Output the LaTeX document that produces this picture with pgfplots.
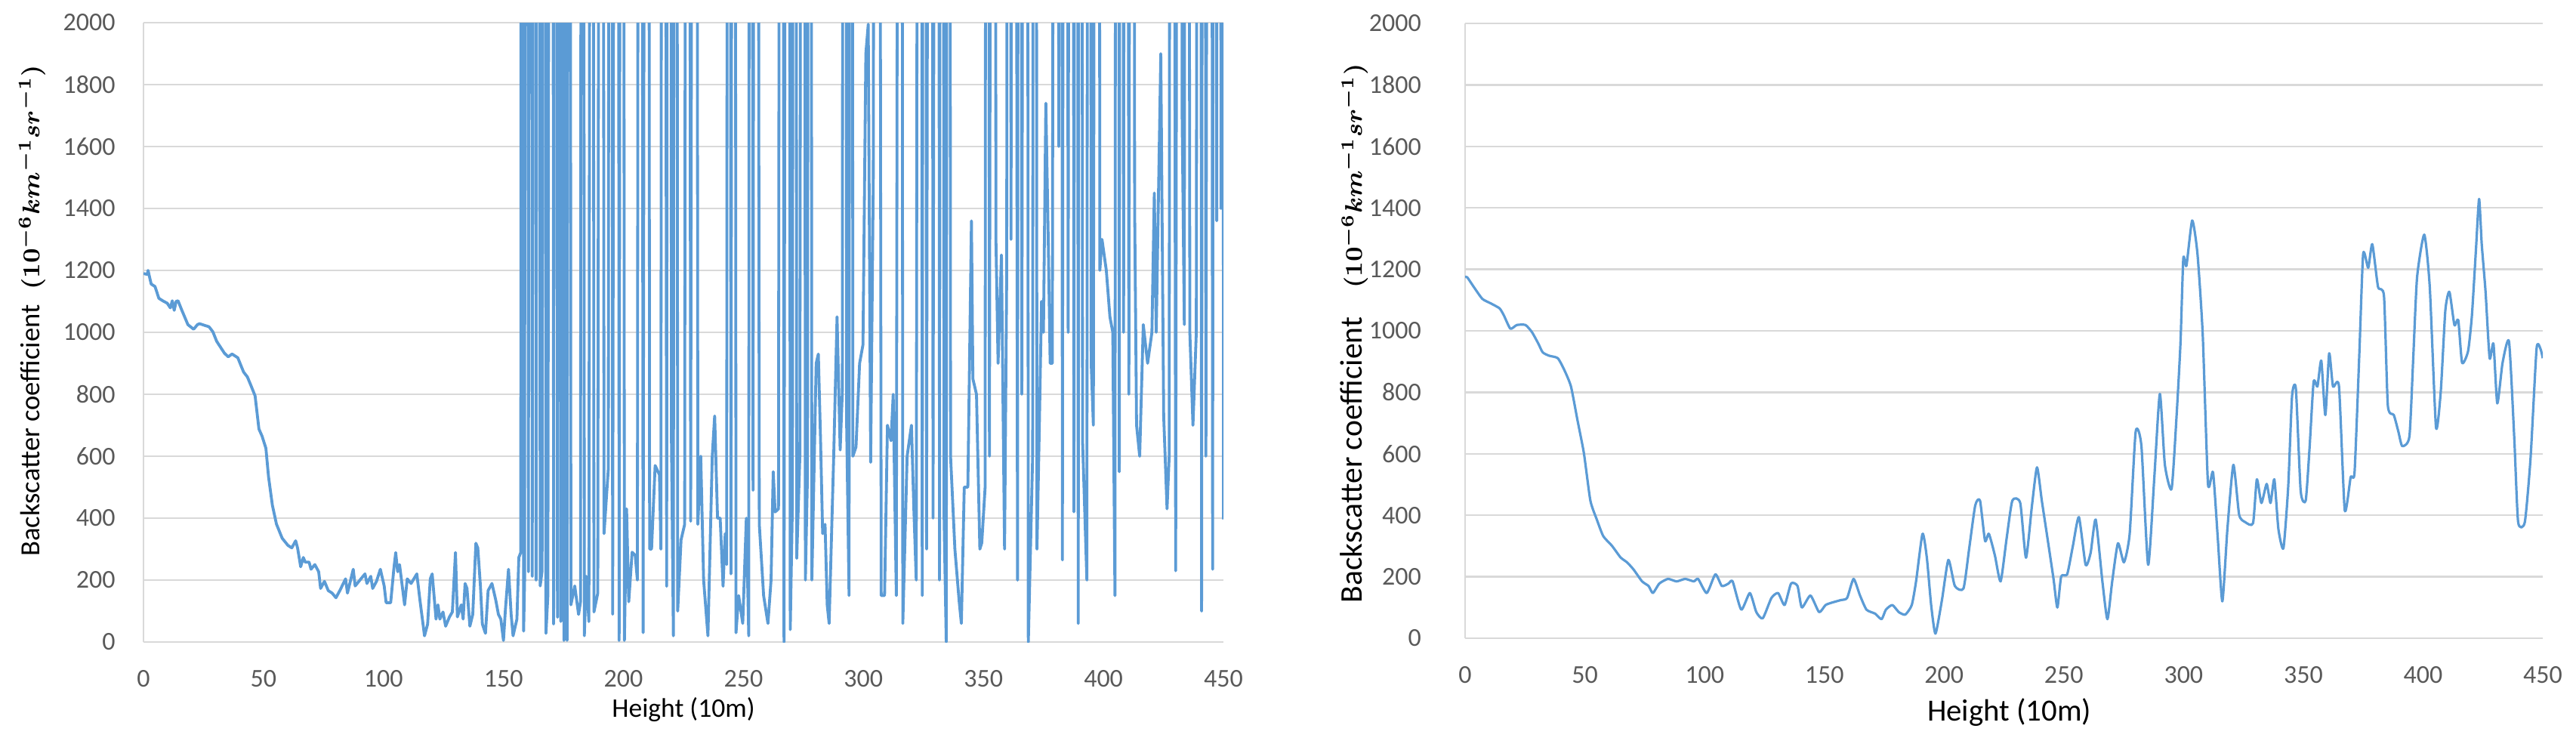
\documentclass[border=0pt]{standalone}
\usepackage{amsmath}
\usepackage{bm}
\usepackage[no-math]{fontspec}
\setmainfont{Carlito}
\usepackage{pgfplots}
\pgfplotsset{compat=1.18}
\definecolor{lineblue}{HTML}{5B9BD5}
\definecolor{gridgray}{HTML}{D9D9D9}
\definecolor{tickgray}{HTML}{595959}
\newcommand{\unitlabel}{$\bm{(10^{-6}km^{-1}sr^{-1})}$}
\pgfplotsset{
  excelstyle/.style={
    scale only axis,
    xmin=0, xmax=450, ymin=0, ymax=2000,
    xtick={0,50,...,450}, ytick={0,200,...,2000},
    axis lines*=left,
    axis line style={line width=0.6pt, draw=gridgray},
    ymajorgrids,
    grid style={line width=0.6pt, draw=gridgray},
    major tick length=0pt,
    /pgf/number format/1000 sep={},
    /pgf/number format/assume math mode=true,
    ticklabel style={font=\fontsize{8.5}{10}\selectfont, text=tickgray},
    yticklabel style={xshift=-5.8pt},
    xticklabel style={yshift=-5.8pt},
  }
}
\begin{document}
\begin{tikzpicture}
\useasboundingbox (0pt,0pt) rectangle (852.75pt,247pt);
% ---------------- left panel ----------------
\begin{axis}[excelstyle,
  at={(47.5pt,34.5pt)}, anchor=south west,
  width=357.5pt, height=205pt,
  xlabel={\fontsize{8.9}{10}\selectfont Height (10m)},
  xlabel style={at={(axis description cs:0.5,0)}, anchor=center, yshift=-22.5pt},
  ylabel={{\fontsize{9.15}{11}\selectfont Backscatter coefficient}\hspace{5pt}{\fontsize{8.3}{10}\selectfont\unitlabel}},
  ylabel style={at={(axis description cs:-0.1035,0.535)}, anchor=center},
]
\addplot[lineblue, line width=0.95pt, line join=round] coordinates {
(0,1190) (1.6,1187) (1.9,1200) (3.2,1156) (4.8,1148) (6.4,1110) (8.0,1102) (9.9,1094)
(11.2,1079) (12.0,1102) (12.8,1071) (13.6,1100) (14.4,1102) (16.0,1071) (18.5,1025)
(20.9,1010) (22.5,1025) (23.3,1028) (27.3,1018) (28.9,1002) (30.5,971) (33.7,933)
(35.3,921) (36.9,930) (39.3,918) (41.7,872) (43.3,856) (44.9,826) (46.5,795) (48.1,688)
(49.4,665) (51.0,626) (52.1,534) (53.7,442) (55.4,381) (57.8,335) (60.2,312) (61.8,304)
(63.4,327) (64.2,304) (65.5,243) (66.6,273) (67.4,258) (69.0,258) (69.8,235) (71.4,250)
(73.0,227) (73.8,173) (75.4,196) (77.0,166) (78.6,158) (80.2,143) (81.8,166) (84.2,204)
(85.0,158) (87.4,235) (88.2,181) (90.6,204) (92.3,220) (93.1,189) (94.7,212) (95.5,173)
(97.1,196) (98.7,235) (100.3,181) (101.1,127) (103.0,127) (104.3,235) (105.1,289)
(105.9,227) (106.7,250) (108.8,120) (109.9,204) (111.5,189) (113.9,220) (115.2,135)
(117.1,20) (118.4,58) (119.5,204) (120.3,220) (121.9,74) (122.7,120) (123.5,74)
(124.8,97) (125.9,51) (127.5,81) (128.7,97) (130.0,289) (130.8,81) (132.4,120)
(133.2,74) (134.0,189) (134.8,173) (136.0,51) (137.2,89) (138.5,319) (139.3,304)
(140.4,181) (141.2,58) (142.5,28) (143.6,166) (145.2,189) (146.8,135) (147.9,89)
(148.9,74) (150.0,5) (150.8,104) (152.1,235) (153.2,89) (154.0,20) (155.6,74)
(156.4,273) (157.2,289) (157.8,10000) (158.4,35) (158.8,200) (159.6,10000) (160.4,227)
(161.2,10000) (162.0,212) (162.8,10000) (163.6,200) (164.3,10000) (165.3,181) (166.1,230)
(166.9,10000) (167.7,28) (168.5,150) (170.1,10000) (170.9,58) (171.7,10000) (172.5,80)
(173.3,10000) (173.9,66) (174.6,10000) (175.2,5) (175.9,10000) (176.5,5) (177.3,10000)
(178.1,120) (179.7,181) (181.3,89) (182.1,130) (182.9,10000) (183.7,20) (184.5,212)
(185.6,66) (186.9,10000) (187.7,97) (189.3,158) (190.9,10000) (191.9,350) (193.7,560)
(194.6,10000) (195.5,90) (197.3,10000) (198.2,5) (199.5,10000) (200.4,5) (201.3,430)
(202.2,130) (203.6,290) (204.9,280) (205.8,200) (206.9,10000) (208.2,30) (209.9,10000)
(210.9,300) (211.7,300) (213.2,570) (215.0,540) (215.6,300) (216.5,10000) (218.0,180)
(219.0,10000) (220.0,650) (220.8,20) (221.7,10000) (222.6,100) (224.0,330) (225.5,380)
(226.7,10000) (228.0,390) (229.8,10000) (231.0,380) (232.2,600) (233.4,200) (235.2,20)
(237.0,600) (238.0,730) (239.2,400) (240.3,400) (241.5,180) (242.4,350) (243.0,250)
(243.9,10000) (244.8,220) (246.0,10000) (246.9,30) (248.0,150) (249.7,60) (251.2,400)
(252.2,20) (252.9,10000) (254.0,490) (255.1,10000) (256.6,380) (258.4,150) (260.2,60)
(261.5,200) (262.4,550) (263.2,420) (264.6,430) (265.9,10000) (266.9,0) (268.6,10000)
(269.5,40) (270.4,450) (271.3,10000) (272.2,270) (273.5,600) (274.9,10000) (275.8,200)
(276.7,550) (277.6,10000) (278.5,200) (280.3,900) (281.2,930) (282.1,660) (283.0,350)
(284.0,380) (284.9,120) (285.7,60) (287.6,600) (289.0,1050) (290.3,620) (291.2,810)
(292.0,10000) (293.0,700) (294.0,150) (294.8,10000) (295.6,600) (296.9,630) (298.4,900)
(299.8,960) (301.0,1900) (302.0,1995) (303.0,580) (304.1,1500) (305.6,10000) (307.4,150)
(308.8,150) (310.0,700) (311.5,650) (312.4,800) (313.7,150) (315.5,10000) (316.4,60)
(318.2,600) (320.0,700) (321.0,430) (322.0,200) (323.6,10000) (324.5,150) (325.4,10000)
(326.3,300) (328.1,10000) (329.0,400) (330.8,10000) (331.7,200) (332.6,10000) (333.6,400)
(334.5,0) (335.4,10000) (336.3,600) (338.1,300) (339.9,130) (340.8,60) (342.0,500)
(343.5,500) (345.0,1360) (345.6,850) (347.1,800) (348.5,300) (349.3,320) (350.7,500)
(351.6,10000) (352.5,600) (354.3,10000) (355.2,1300) (356.1,900) (357.5,1250) (358.8,300)
(359.7,1200) (360.6,10000) (361.5,1300) (362.4,10000) (364.2,200) (365.1,10000)
(366.0,800) (367.8,10000) (368.7,0) (370.5,600) (371.4,10000) (372.3,300) (373.3,700)
(374.2,1100) (375.0,1000) (376.0,1740) (377.0,1300) (377.8,900) (378.7,900)
(380.5,10000) (381.4,1600) (382.3,10000) (382.9,265) (384.1,10000) (385.3,1000)
(386.8,10000) (387.7,420) (388.6,10000) (389.5,60) (390.4,10000) (391.3,650) (393.1,200)
(394.0,10000) (394.9,900) (395.8,700) (397.6,10000) (398.5,1200) (399.4,1300)
(401.2,1200) (402.7,1050) (403.9,1000) (404.8,150) (405.7,10000) (406.6,550)
(407.5,10000) (408.4,1000) (409.3,10000) (410.6,800) (412.0,10000) (413.0,1400)
(413.8,700) (415.1,600) (416.6,1025) (418.4,900) (420.2,1000) (421.2,1450) (422.0,1000)
(423.9,1900) (425.1,730) (426.5,430) (427.4,600) (428.3,10000) (430.1,230) (431.9,10000)
(432.8,1700) (433.7,1025) (434.6,10000) (436.0,1000) (437.3,700) (438.7,1000)
(440.0,10000) (440.9,100) (441.8,10000) (442.7,600) (444.5,10000) (445.5,235)
(446.3,10000) (447.2,1360) (448.1,10000) (449.0,1400) (449.6,10000) (450,396)
};
\end{axis}
% ---------------- right panel ----------------
\begin{axis}[excelstyle,
  at={(485pt,35.75pt)}, anchor=south west,
  width=356.75pt, height=203.5pt,
  yticklabel style={xshift=-5.2pt},
  xlabel={\fontsize{10.2}{12}\selectfont Height (10m)},
  xlabel style={at={(axis description cs:0.505,0)}, anchor=center, yshift=-24.5pt},
  ylabel={{\fontsize{10.4}{12}\selectfont Backscatter coefficient}\hspace{9.5pt}{\fontsize{8.3}{10}\selectfont\unitlabel}},
  ylabel style={at={(axis description cs:-0.103,0.496)}, anchor=center},
]
\addplot[lineblue, line width=0.8pt, line join=round, smooth, tension=0.35] coordinates {
(0,1175) (0.9,1174) (3.6,1143) (7.2,1104) (10.8,1089) (14.4,1073) (16.2,1050) (18.9,1007)
(21.6,1019) (25.2,1019) (27.9,996) (30.6,958) (32.4,930) (35.1,919) (38.7,911) (41.4,873)
(44.2,819) (46.9,710) (49.6,602) (52.3,448) (55.0,386) (57.7,332) (61.3,301) (64.9,263)
(67.6,247) (70.3,224) (73.9,185) (76.6,170) (78.4,147) (81.1,178) (84.7,193) (88.3,185)
(91.9,193) (95.5,185) (97.3,193) (100.9,147) (104.5,208) (107.2,170) (110.0,178)
(111.7,185) (115.3,93) (118.9,147) (121.6,85) (124.3,65) (127.9,131) (130.7,147)
(133.4,108) (136.1,178) (138.8,170) (140.6,100) (144.2,139) (147.8,85) (150.5,108)
(153.2,116) (156.8,124) (159.5,131) (162.2,193) (164.9,139) (167.6,93) (171.2,80)
(173.9,62) (175.7,93) (178.4,108) (181.1,85) (183.8,77) (186.5,108) (188.3,185)
(191.0,340) (192.8,262) (194.6,108) (196.4,15) (199.1,124) (201.8,255) (204.5,170)
(208.1,162) (210.5,293) (213.0,432) (215.0,448) (217.1,317) (218.7,340) (221.2,270)
(223.6,185) (226.1,324) (228.5,448) (231.8,440) (234.2,262) (236.7,432) (238.8,556)
(240.8,448) (243.2,324) (245.7,193) (247.3,100) (248.9,201) (251.4,208) (253.8,301)
(256.3,394) (259.1,239) (261.2,278) (263.3,386) (266.1,185) (268.2,62) (270.2,185)
(272.6,309) (275.1,247) (277.5,340) (280.0,672) (282.4,625) (285.2,239) (287.8,525)
(290.1,795) (292.2,564) (295.0,486) (297.1,726) (298.7,958) (299.9,1236) (301.2,1212)
(303.6,1359) (305.8,1251) (308.0,988) (310.2,502) (312.3,540) (314.3,324) (316.2,120)
(318.3,355) (320.8,564) (323.2,402) (325.7,378) (329.0,374) (330.6,517) (332.5,440)
(334.7,502) (336.3,440) (337.9,517) (339.6,355) (341.7,293) (343.7,494) (345.3,788)
(346.9,811) (348.9,479) (351.0,448) (352.6,618) (354.3,834) (355.9,819) (357.5,903)
(359.2,726) (360.8,927) (362.4,819) (364.9,819) (367.3,417) (369.8,525) (371.4,540)
(373.4,927) (375.0,1251) (377.1,1205) (378.8,1282) (381.2,1143) (383.7,1112) (385.3,757)
(387.8,726) (389.7,672) (391.3,625) (394.3,656) (395.9,911) (397.5,1174) (400.5,1313)
(402.8,1143) (405.4,687) (407.4,803) (409.3,1066) (411.0,1127) (413.1,1019) (414.7,1035)
(416.3,896) (418.8,934) (420.4,1050) (422.1,1266) (423.4,1429) (424.5,1282) (426.1,1127)
(427.8,911) (429.4,958) (431.0,764) (433.2,896) (435.9,965) (438.1,649) (439.7,378)
(442.5,378) (444.9,587) (447.4,942) (449.0,942) (450,911)
};
\end{axis}
\end{tikzpicture}
\end{document}
